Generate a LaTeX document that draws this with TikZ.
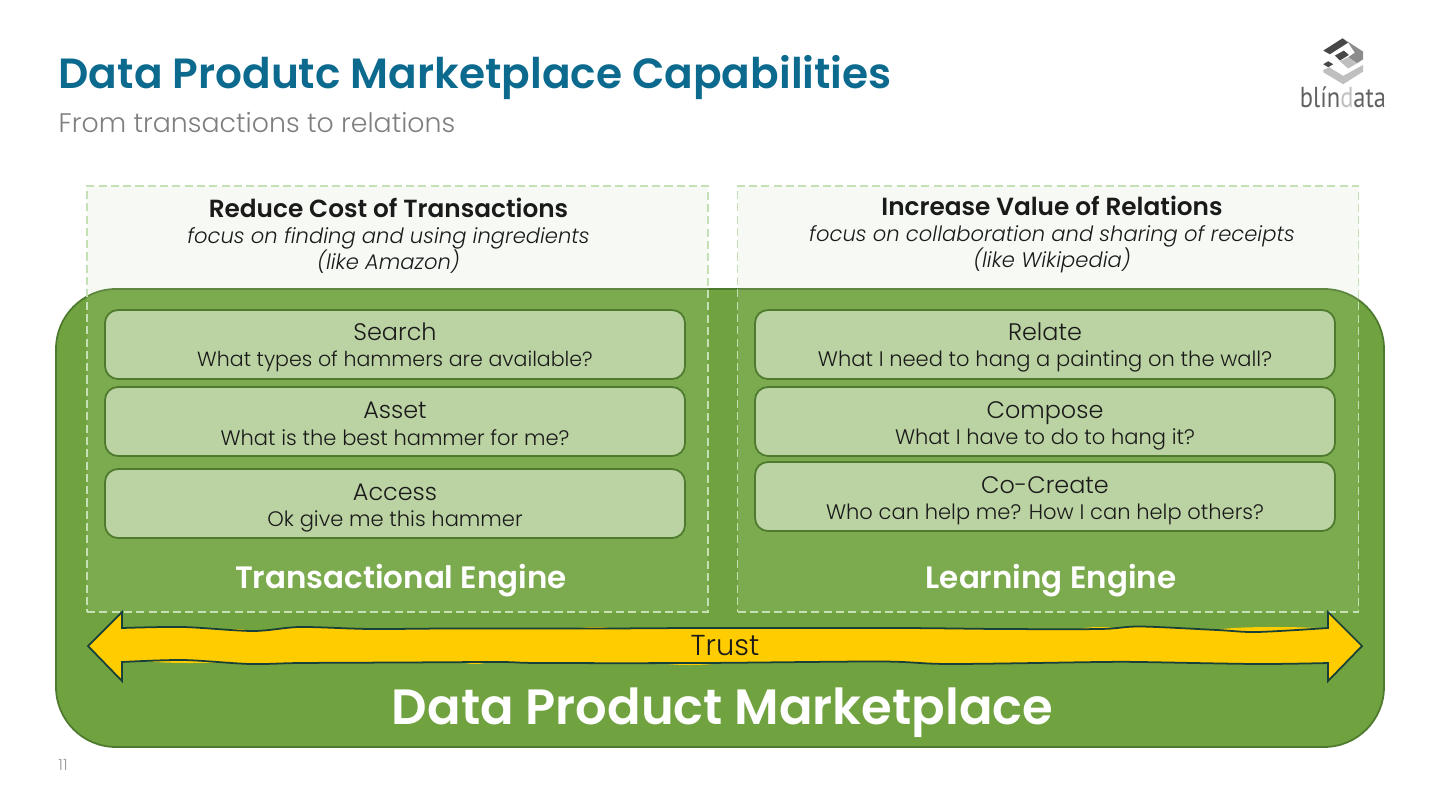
\documentclass[tikz,border=0pt]{standalone}
\usepackage{fontspec}
\setmainfont{Poppins}[BoldFont={Poppins SemiBold}]
\newfontfamily\lightfont{Poppins Light}[ItalicFont={Poppins Light Italic}]
\newfontfamily\logofont{PT Sans}
\usetikzlibrary{positioning, calc}
\definecolor{titlecol}{HTML}{0B6A8E}
\definecolor{subcol}{HTML}{7F7F7F}
\definecolor{outercol}{HTML}{70A23F}
\definecolor{edgecol}{HTML}{4E7A2E}
\definecolor{panelcol}{HTML}{C8DBB0}
\definecolor{dashcol}{HTML}{C5E0B4}
\definecolor{innercol}{HTML}{BBD3A3}
\definecolor{trustcol}{HTML}{FFCC00}
\definecolor{trustedge}{HTML}{17403A}
\definecolor{inkcol}{HTML}{1A1A1A}
\tikzset{
  title lbl/.style={anchor=west, inner sep=0pt, text=titlecol, font=\fontsize{12.02pt}{14pt}\selectfont\bfseries},
  sub lbl/.style={anchor=west, inner sep=0pt, text=subcol, font=\fontsize{7.63pt}{10pt}\selectfont\lightfont},
  outer box/.style={rectangle, draw=edgecol, fill=outercol, rounded corners=0.6cm,
                    minimum width=13.28cm, minimum height=4.58cm, line width=0.5pt},
  panel/.style={rectangle, draw=dashcol, dash pattern=on 2.3pt off 1.2pt, fill=panelcol, fill opacity=0.14,
                minimum width=6.21cm, minimum height=4.26cm, line width=0.5pt},
  inner box/.style={rectangle, draw=edgecol, fill=innercol, rounded corners=0.13cm,
                    minimum width=5.8cm, minimum height=0.69cm, line width=0.5pt},
  head lbl/.style={inner sep=0pt, text=inkcol, font=\fontsize{7.05pt}{8pt}\selectfont\bfseries},
  note lbl/.style={inner sep=0pt, text=inkcol, align=center,
                   font=\fontsize{6pt}{7.35pt}\selectfont\lightfont\itshape},
  cap lbl/.style={anchor=base, inner sep=0pt, text=inkcol, font=\fontsize{6.8pt}{8pt}\selectfont\lightfont},
  ask lbl/.style={anchor=base, inner sep=0pt, text=inkcol, font=\fontsize{5.98pt}{8pt}\selectfont\lightfont},
  engine lbl/.style={inner sep=0pt, text=white, font=\fontsize{8.8pt}{10pt}\selectfont\bfseries},
  trust arrow/.style={draw=trustedge, fill=trustcol, line width=0.5pt, line join=miter},
}
\begin{document}
\begin{tikzpicture}
    \useasboundingbox (0,0) rectangle (14.4,8.1);
    \node[title lbl] (title) at (0.58,7.32) {Data Produtc Marketplace Capabilities};
    \node[sub lbl] (subtitle) at (0.58,6.87) {From transactions to relations};

    % logo
    \begin{scope}[shift={(12.80,7.90)}, x=0.003333cm, y=-0.003333cm]
    \fill[black!72] (130,92) -- (188,55) -- (205,68) -- (150,103) -- cycle;
    \fill[black!45] (188,55) -- (250,95) -- (250,118) -- (232,130) -- (205,112) -- (225,98) -- (205,68) -- cycle;
    \fill[black!72] (165,107) -- (192,92) -- (207,105) -- (180,122) -- cycle;
    \fill[black!72] (130,133) -- (145,124) -- (160,133) -- (145,142) -- cycle;
    \fill[black!25] (180,124) -- (205,112) -- (232,130) -- (205,146) -- cycle;
    \fill[black!25] (130,150) -- (148,142) -- (190,168) -- (250,135) -- (250,155) -- (190,193) -- (130,157) -- cycle;
    \end{scope}
    \node[inner sep=0pt, text=black!62, font=\fontsize{8.2pt}{9pt}\selectfont\logofont, xscale=0.85, transform shape] (logo) at (13.43,7.13)
        {bl\'{\i}n{\color{black!25}d}ata};

    \node[outer box] (market) at (7.20,2.92) {};
    \node[panel] (left panel) at (3.975,4.11) {};
    \node[panel] (right panel) at (10.48,4.11) {};

    \node[head lbl] (left head) at (3.885,6.02) {Reduce Cost of Transactions};
    \node[note lbl, below=0.08cm of left head] (left note) {focus on finding and using ingredients\\(like Amazon)};
    \node[head lbl] (right head) at (10.52,6.04) {Increase Value of Relations};
    \node[note lbl, below=0.08cm of right head] (right note) {focus on collaboration and sharing of receipts\\(like Wikipedia)};

    % transactional side
    \node[inner box] (search) at (3.95,4.655) {};
    \node[cap lbl] (search cap) at (3.95,4.70) {Search};
    \node[ask lbl] (search ask) at (3.95,4.44) {\fontsize{5.85pt}{8pt}\selectfont What types of hammers are available?};
    \node[inner box] (asset) at (3.95,3.885) {};
    \node[cap lbl] (asset cap) at (3.95,3.92) {Asset};
    \node[ask lbl] (asset ask) at (3.95,3.65) {What is the best hammer for me?};
    \node[inner box] (access) at (3.95,3.065) {};
    \node[cap lbl] (access cap) at (3.95,3.10) {Access};
    \node[ask lbl] (access ask) at (3.95,2.84) {Ok give me this hammer};
    \node[engine lbl] (trans engine) at (4.01,2.29) {Transactional Engine};

    % learning side
    \node[inner box] (relate) at (10.45,4.655) {};
    \node[cap lbl] (relate cap) at (10.45,4.70) {Relate};
    \node[ask lbl] (relate ask) at (10.45,4.44) {What I need to hang a painting on the wall?};
    \node[inner box] (compose) at (10.45,3.885) {};
    \node[cap lbl] (compose cap) at (10.45,3.92) {Compose};
    \node[ask lbl] (compose ask) at (10.45,3.66) {What I have to do to hang it?};
    \node[inner box] (cocreate) at (10.45,3.135) {};
    \node[cap lbl] (cocreate cap) at (10.45,3.17) {Co-Create};
    \node[ask lbl] (cocreate ask) at (10.45,2.91) {Who can help me? How I can help others?};
    \node[engine lbl] (learn engine) at (10.51,2.29) {Learning Engine};

    % trust band
    \foreach \bx/\by/\brx in {12.75/1.80/0.55, 5.95/1.80/0.2, 2.35/1.78/0.15, 11.0/1.80/0.2,
                              1.9/1.50/0.45, 6.9/1.48/0.3, 4.75/1.49/0.13}
        \fill[trustcol] (\bx,\by) ellipse (\brx cm and 0.03cm);
    \draw[trust arrow] (0.88,1.64) -- (1.22,1.98) --
        plot[smooth, tension=0.5] coordinates {(1.22,1.82) (1.83,1.83) (2.53,1.79) (3.00,1.83) (3.70,1.81)
            (4.50,1.815) (6.00,1.815) (7.00,1.82) (9.00,1.82) (10.00,1.81) (11.00,1.81) (11.40,1.835)
            (12.17,1.80) (12.57,1.78) (13.28,1.82)}
        -- (13.28,1.98) -- (13.62,1.64) -- (13.28,1.29) --
        plot[smooth, tension=0.5] coordinates {(13.28,1.47) (12.57,1.46) (11.40,1.48) (11.00,1.48) (9.50,1.46)
            (8.80,1.485) (7.00,1.47) (5.40,1.47) (5.00,1.48) (4.00,1.475) (3.00,1.47) (2.50,1.46)
            (1.83,1.50) (1.22,1.48)}
        -- (1.22,1.29) -- cycle;
    \node[cap lbl, font=\fontsize{8.2pt}{9pt}\selectfont\lightfont] (trust) at (7.25,1.55) {Trust};
    \node[inner sep=0pt, text=white, font=\fontsize{14.1pt}{16pt}\selectfont\bfseries] (market name) at (7.225,0.97) {Data Product Marketplace};
    \node[inner sep=0pt, text=black!40, font=\fontsize{4.4pt}{5pt}\selectfont\lightfont] (page) at (0.63,0.45) {11};
\end{tikzpicture}
\end{document}
